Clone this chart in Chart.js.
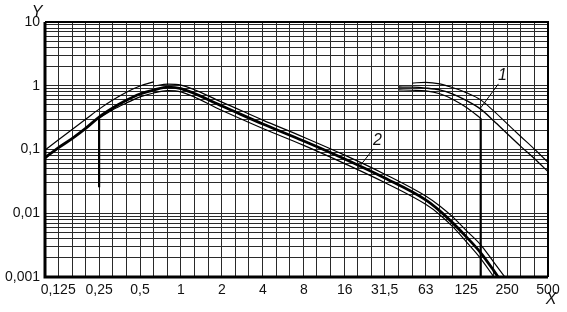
<!DOCTYPE html>
<html>
<head>
<meta charset="utf-8">
<style>
  html, body { margin: 0; padding: 0; background: #fff; }
  canvas { display: block; }
</style>
<script src="https://cdn.jsdelivr.net/npm/chart.js@4/dist/chart.umd.min.js"></script>
</head>
<body>
<canvas id="chart" width="567" height="312"></canvas>
<script>
// third-octave grid and octave labels
const thirdOctaves = [0.1, 0.125, 0.16, 0.2, 0.25, 0.315, 0.4, 0.5, 0.63, 0.8, 1, 1.25, 1.6, 2, 2.5, 3.15, 4, 5, 6.3, 8, 10,
  12.5, 16, 20, 25, 31.5, 40, 50, 63, 80, 100, 125, 160, 200, 250, 315, 400, 500];
const xTickValues = [0.125, 0.25, 0.5, 1, 2, 4, 8, 16, 31.5, 63, 125, 250, 500];
const xTickLabels = ['0,125', '0,25', '0,5', '1', '2', '4', '8', '16', '31,5', '63', '125', '250', '500'];
const yTickValues = [0.001, 0.01, 0.1, 1, 10];
const yTickLabels = ['0,001', '0,01', '0,1', '1', '10'];

// curve 2
const freq2 = [0.1, 0.125, 0.16, 0.2, 0.25, 0.315, 0.4, 0.5, 0.63, 0.8, 1, 2, 4, 8, 16, 31.5, 63, 80, 100, 125, 160, 200, 250];
const mid2 = [0.074, 0.106, 0.151, 0.216, 0.323, 0.448, 0.597, 0.742, 0.857, 0.95, 0.9, 0.481, 0.251, 0.136, 0.0709, 0.0357,
  0.0162, 0.0109, 0.007, 0.0043, 0.0024, 0.00125, 0.00062];
const freq2UpLow = [0.1, 0.125, 0.16, 0.2, 0.25, 0.315, 0.4, 0.5, 0.63];
const up2Low = [0.098, 0.141, 0.21, 0.3, 0.43, 0.597, 0.8, 0.99, 1.15];
const freq2UpHigh = [0.63, 0.8, 1, 2, 4, 8, 16, 31.5, 63, 80, 100, 125, 160, 200, 250];
const up2High = [0.99, 1.06, 1.02, 0.553, 0.289, 0.156, 0.0815, 0.041, 0.0186, 0.013, 0.0087, 0.0054, 0.0032, 0.0017, 0.0009];
const freq2Low = [0.25, 0.315, 0.4, 0.5, 0.63, 0.8, 1, 2, 4, 8, 16, 31.5, 63, 80, 100, 125, 160, 200, 250];
const low2 = [0.312, 0.42, 0.54, 0.67, 0.77, 0.84, 0.8, 0.409, 0.213, 0.116, 0.06, 0.0303, 0.0138, 0.0095, 0.0061, 0.0036,
  0.00195, 0.001, 0.0005];

// curve 1
const freq1 = [40, 50, 63, 80, 100, 125, 160, 200, 250, 315, 400, 500];
const mid1 = [0.955, 0.95, 0.92, 0.86, 0.74, 0.59, 0.43, 0.28, 0.178, 0.112, 0.071, 0.045];
const freq1Up = [50, 63, 80, 100, 125, 160, 200, 250, 315, 400, 500];
const up1 = [1.1, 1.13, 1.07, 0.93, 0.78, 0.6, 0.4, 0.255, 0.16, 0.1, 0.063];
const freq1Low = [40, 50, 63, 80, 100, 125, 160];
const low1 = [0.86, 0.85, 0.83, 0.75, 0.61, 0.46, 0.31];

// vertical drop lines
const dropFreqs = [0.25, 160];
const dropTop = [0.312, 0.31];
const dropBottom = [0.0256, 0.001];

// curve labels and leader lines (x, y in data units)
const curveLabels = ['1', '2'];
const labelAt = [[231, 1.42], [27.8, 0.137]];
const leaderFrom = [[216, 1.07], [26, 0.102]];
const leaderTo = [[160, 0.45], [20.1, 0.051]];

const yGrid = [];
yTickValues.forEach(d => {
  if (d === 10) { yGrid.push(d); return; }
  for (let k = 1; k <= 9; k++) yGrid.push(k === 1 ? d : k * d);
});

const line = (f, v, w) => ({
  data: f.map((x, i) => ({ x: x, y: v[i] })),
  borderColor: '#000',
  borderWidth: w,
  pointRadius: 0,
  fill: false,
  cubicInterpolationMode: 'monotone'
});

const datasets = [
  line(freq2UpLow, up2Low, 1.2),
  line(freq2UpHigh, up2High, 1.2),
  line(freq2Low, low2, 1.2),
  line(freq1Up, up1, 1.1),
  line(freq1Low, low1, 1.2),
  line(freq1, mid1, 1.3),
  line(freq2, mid2, 2.8)
];
dropFreqs.forEach((f, i) => {
  datasets.push({
    data: [{ x: f, y: dropTop[i] }, { x: f, y: dropBottom[i] }],
    borderColor: '#000', borderWidth: 2.2, pointRadius: 0, tension: 0
  });
});

const extras = {
  id: 'extras',
  afterDraw(chart) {
    const { ctx, chartArea: a, scales: { x, y } } = chart;
    ctx.save();
    ctx.strokeStyle = '#000';
    // frame
    ctx.lineWidth = 2;
    ctx.beginPath();
    ctx.moveTo(a.left, a.top); ctx.lineTo(a.right, a.top); ctx.lineTo(a.right, a.bottom);
    ctx.stroke();
    ctx.lineWidth = 3;
    ctx.beginPath();
    ctx.moveTo(a.left, a.top); ctx.lineTo(a.left, a.bottom); ctx.lineTo(a.right, a.bottom);
    ctx.stroke();
    // leaders
    ctx.lineWidth = 1;
    curveLabels.forEach((t, i) => {
      ctx.beginPath();
      ctx.moveTo(x.getPixelForValue(leaderFrom[i][0]), y.getPixelForValue(leaderFrom[i][1]));
      ctx.lineTo(x.getPixelForValue(leaderTo[i][0]), y.getPixelForValue(leaderTo[i][1]));
      ctx.stroke();
    });
    ctx.fillStyle = '#111';
    ctx.font = 'italic 16px "Liberation Sans"';
    ctx.textAlign = 'center';
    ctx.textBaseline = 'middle';
    curveLabels.forEach((t, i) => {
      ctx.fillText(t, x.getPixelForValue(labelAt[i][0]), y.getPixelForValue(labelAt[i][1]));
    });
    // axis titles
    ctx.fillText('Y', a.left - 8, a.top - 9);
    ctx.fillText('X', a.right + 3, a.bottom + 23);
    ctx.restore();
  }
};

new Chart(document.getElementById('chart'), {
  type: 'line',
  data: { datasets: datasets },
  options: {
    responsive: false,
    animation: false,
    layout: { padding: { top: 22, right: 19, left: 0, bottom: 0 } },
    plugins: { legend: { display: false }, tooltip: { enabled: false } },
    scales: {
      x: {
        type: 'logarithmic',
        min: 0.1,
        max: 500,
        afterBuildTicks: s => { s.ticks = thirdOctaves.map(v => ({ value: v })); },
        afterFit: s => { s.height = 35; },
        border: { display: false },
        grid: { color: '#2a2a2a', lineWidth: 1, drawTicks: false },
        ticks: {
          autoSkip: false, maxRotation: 0, padding: 5, color: '#111',
          font: { family: 'Liberation Sans', size: 14 },
          callback: v => { const i = xTickValues.indexOf(v); return i < 0 ? '' : xTickLabels[i]; }
        }
      },
      y: {
        type: 'logarithmic',
        min: 0.001,
        max: 10,
        afterBuildTicks: s => { s.ticks = yGrid.map(v => ({ value: v })); },
        afterFit: s => { s.width = 45; },
        border: { display: false },
        grid: { color: '#2a2a2a', lineWidth: 1, drawTicks: false },
        ticks: {
          autoSkip: false, padding: 5, color: '#111',
          font: { family: 'Liberation Sans', size: 14 },
          callback: v => { const i = yTickValues.indexOf(v); return i < 0 ? '' : yTickLabels[i]; }
        }
      }
    }
  },
  plugins: [extras]
});
</script>
</body>
</html>
